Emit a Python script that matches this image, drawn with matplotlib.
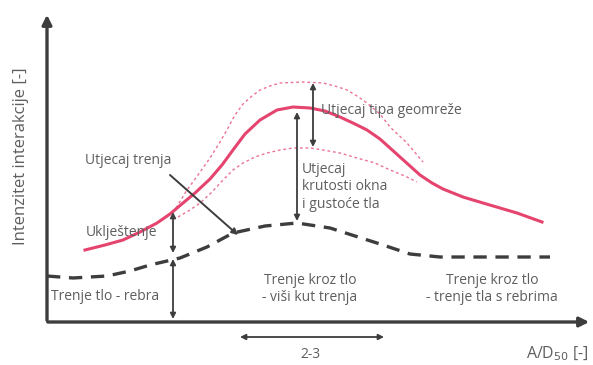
import numpy as np
import matplotlib.pyplot as plt

# curve shapes (x, y in picture units, y grows down)
main_x = [85, 105, 123, 140, 157, 170, 183, 195, 210, 222, 233, 245, 260, 277, 293,
          310, 325, 340, 355, 367, 380, 390, 400, 410, 420, 432, 443, 463, 483, 517, 542]
main_y = [250, 245, 240, 232, 223, 214, 203, 193, 179, 165, 150, 134, 120, 110, 107,
          108, 111, 117, 124, 130, 139, 148, 157, 166, 175, 183, 189, 197, 203, 213, 222]

upper_x = [176, 187, 198, 210, 220, 228, 235, 243, 252, 260, 270, 280, 303,
           323, 335, 347, 357, 367, 380, 390, 407, 423]
upper_y = [208, 190, 175, 158, 142, 128, 115, 104, 96, 90, 86, 83, 82,
           83, 86, 90, 96, 103, 114, 127, 143, 162]

lower_x = [178, 190, 200, 212, 223, 233, 243, 255, 267, 280, 293, 310, 323,
           340, 357, 375, 390, 405, 417]
lower_y = [217, 210, 203, 192, 180, 170, 163, 157, 153, 150, 148, 148, 150,
           153, 158, 163, 170, 176, 182]

dash_x = [47, 73, 107, 130, 150, 180, 207, 233, 265, 297, 330, 355, 380, 410, 440, 550]
dash_y = [276, 278, 276, 271, 265, 258, 247, 233, 226, 223, 228, 236, 244, 254, 257, 257]

pink = '#e5446f'
dark = '#3d3d3d'
grey = '#5e5e5e'

plt.rcParams['font.family'] = ['Open Sans', 'DejaVu Sans']

fig = plt.figure(figsize=(5.93, 3.65), dpi=100)
ax = fig.add_axes([0, 0, 1, 1])
ax.set_xlim(0, 593)
ax.set_ylim(365, 0)
ax.axis('off')

# axes of the diagram
ax.annotate('', xy=(592, 322), xytext=(45, 322),
            arrowprops=dict(arrowstyle='-|>', color=dark, lw=2.4, mutation_scale=14))
ax.annotate('', xy=(47, 12), xytext=(47, 323),
            arrowprops=dict(arrowstyle='-|>', color=dark, lw=2.4, mutation_scale=14))

ax.plot(upper_x, upper_y, color=pink, lw=1, ls=(0, (2, 2)), alpha=0.75)
ax.plot(lower_x, lower_y, color=pink, lw=1, ls=(0, (2, 2)), alpha=0.75)
ax.plot(main_x, main_y, color=pink, lw=2.2, solid_joinstyle='round')
ax.plot(dash_x, dash_y, color=dark, lw=2.4, ls=(0, (4, 2.6)))

def dbl(x0, y0, x1, y1):
    ax.annotate('', xy=(x1, y1), xytext=(x0, y0),
                arrowprops=dict(arrowstyle='<|-|>', color=dark, lw=1.3, mutation_scale=8,
                                shrinkA=0, shrinkB=0))

dbl(173, 212, 173, 253)
dbl(173, 259, 173, 319)
dbl(297, 112, 297, 221)
dbl(313, 83, 313, 147)
dbl(240, 337, 384, 337)
ax.annotate('', xy=(238, 235), xytext=(170, 175),
            arrowprops=dict(arrowstyle='-|>', color=dark, lw=1.4, mutation_scale=9,
                            shrinkA=0, shrinkB=0))

fs = 10
ax.text(128, 160, 'Utjecaj trenja', color=grey, fontsize=fs, ha='center', va='center')
ax.text(86, 233, 'Uklještenje', color=grey, fontsize=fs, ha='left', va='center')
ax.text(51, 297, 'Trenje tlo - rebra', color=grey, fontsize=fs, ha='left', va='center')
ax.text(321, 110, 'Utjecaj tipa geomreže', color=grey, fontsize=fs, ha='left', va='center')
ax.text(302, 187, 'Utjecaj\nkrutosti okna\ni gustoće tla', color=grey, fontsize=fs,
        ha='left', va='center', linespacing=1.2)
ax.text(310, 289, 'Trenje kroz tlo\n- viši kut trenja', color=grey, fontsize=fs,
        ha='center', va='center', linespacing=1.2)
ax.text(492, 289, 'Trenje kroz tlo\n- trenje tla s rebrima', color=grey, fontsize=fs,
        ha='center', va='center', linespacing=1.2)
ax.text(310, 355, '2-3', color=grey, fontsize=fs, ha='center', va='center')
ax.text(589, 354, 'A/D$_{50}$ [-]', color=grey, fontsize=11.5, ha='right', va='center')
ax.text(21, 156, 'Intenzitet interakcije [-]', color=grey, fontsize=12,
        rotation=90, ha='center', va='center')

fig.savefig('out.png', dpi=100)
